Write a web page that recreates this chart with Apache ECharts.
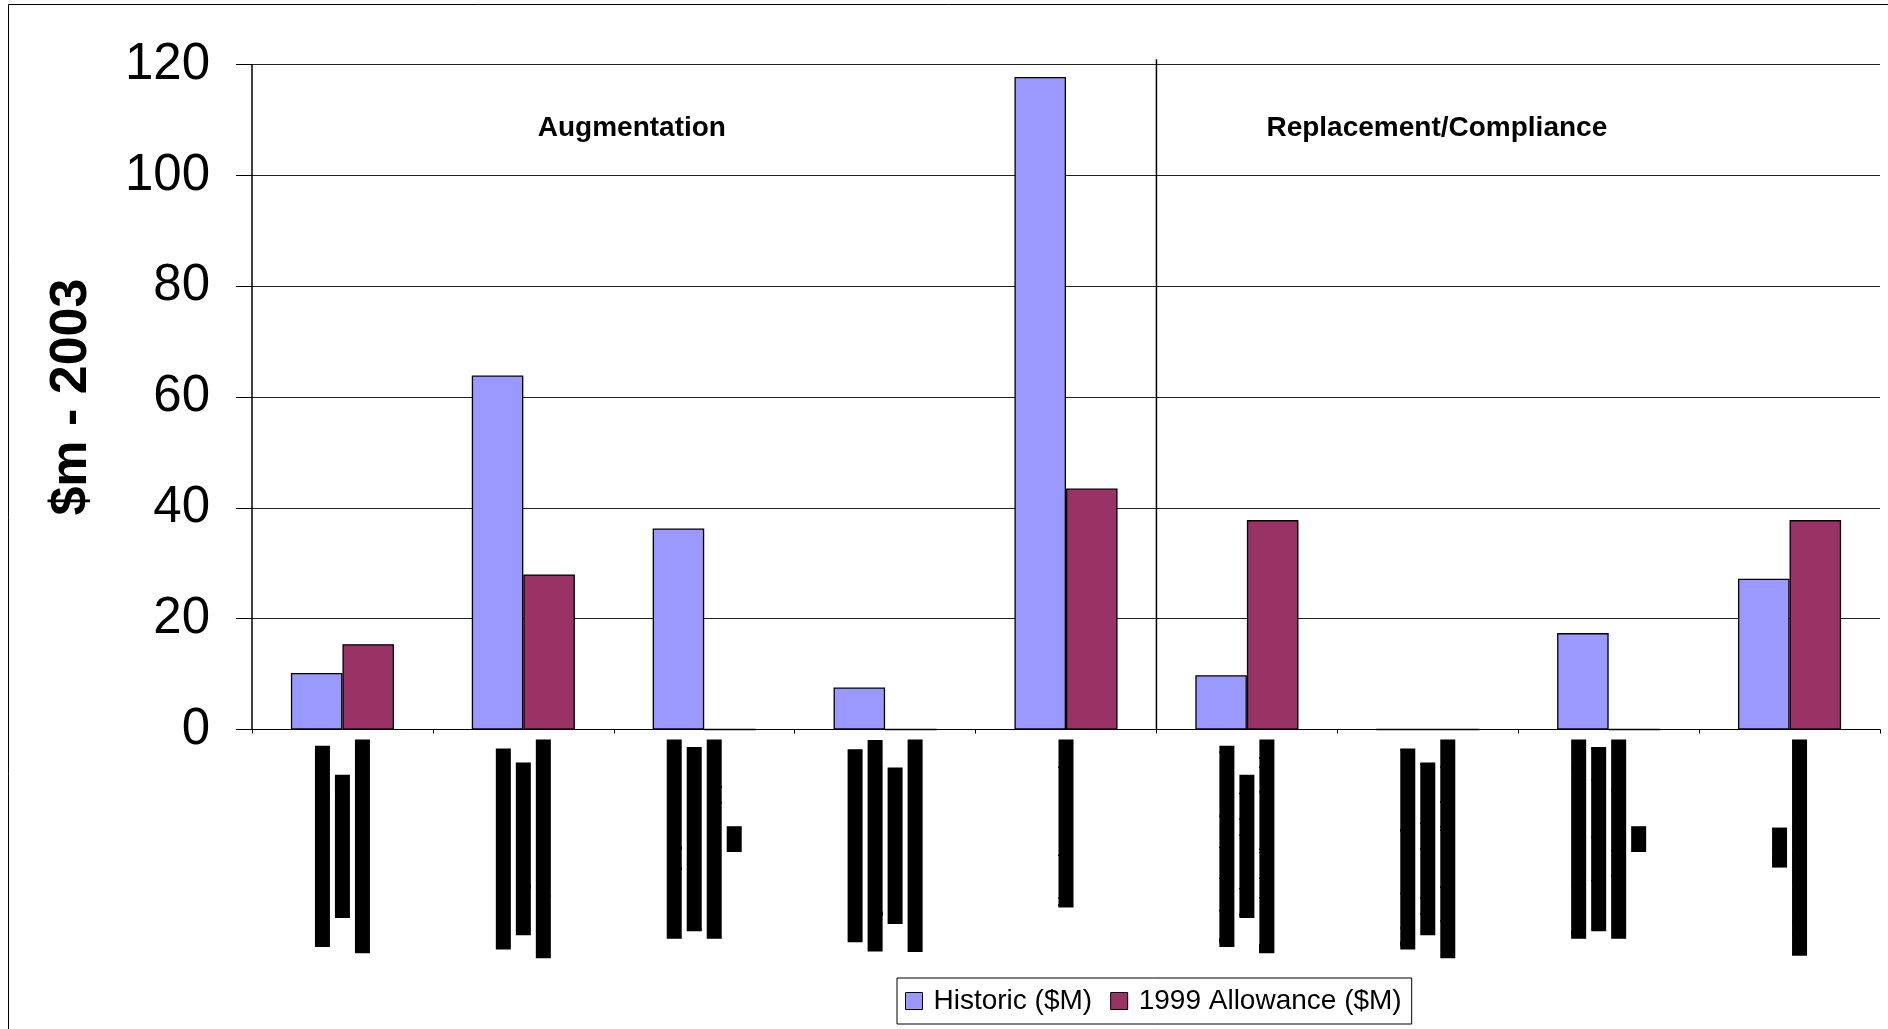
<!DOCTYPE html>
<html>
<head>
<meta charset="utf-8">
<title>Capital expenditure: historic vs 1999 allowance</title>
<script src="https://cdn.jsdelivr.net/npm/echarts@6/dist/echarts.min.js"></script>
<style>
  html, body { margin: 0; padding: 0; background: #fff; }
  #chart { width: 1888px; height: 1029px; }
</style>
</head>
<body>
<div id="chart"></div>
<script>
// Expenditure categories (multi-line names, one line per row of the rotated label)
const categories = [
  'Overhead and underground,\nfeeders and circuits,\nTransmission lines and cables',
  'Substation transformers and\nswitchgear, busbars and\nreactive plant at all substations',
  'Secondary systems such as\nprotection, telecontrol and\ncommunications equipment,\netc.',
  'Connection assets to serve\nnew generators and customer\nloads, with associated\ntransmission lines, extensions',
  'Network augmentations',
  'Overhead and underground,\nfeeders and circuits,\nTransmission lines and cables',
  'Substation transformers and\nswitchgear, busbars and\nreactive plant at all substations',
  'Secondary systems such as\nprotection, telecontrol and\ncommunications equipment,\netc.',
  'Other\nbuildings, land and easements'
];
const seriesNames = ['Historic ($M)', '1999 Allowance ($M)'];
const historic  = [10.2, 63.9, 36.3, 7.6, 117.8, 9.8, 0, 17.4, 27.2];
const allowance = [15.4, 28.0, 0, 0, 43.5, 37.8, 0, 0, 37.8];
const yTicks = [0, 20, 40, 60, 80, 100, 120];
const sections = ['Augmentation', 'Replacement/Compliance'];
const sectionSizes = [5, 4];

const FONT = "'Liberation Sans', Arial, Helvetica, sans-serif";

// The two sections are split after the first group of categories
const dividerAt = sectionSizes[0];
// Section titles, placed in category units near the top of the plot
const sectionTitleData = [
  [2.1, 108.6, sections[0]],
  [dividerAt + 1.55, 108.6, sections[1]]
];

const chart = echarts.init(document.getElementById('chart'), null, { renderer: 'canvas' });

chart.setOption({
  animation: false,
  backgroundColor: '#fff',
  textStyle: { fontFamily: FONT, color: '#000' },
  graphic: [{
    type: 'rect',
    silent: true,
    z: -10,
    shape: { x: 8.5, y: 4.5, width: 3000, height: 3000 },
    style: { fill: 'none', stroke: '#000', lineWidth: 1 }
  }],
  grid: {
    left: 252, right: 8, top: 64.7, bottom: 299.5,
    containLabel: false, outerBoundsMode: 'none'
  },
  legend: {
    data: seriesNames,
    left: 897, top: 978,
    orient: 'horizontal',
    icon: 'rect',
    itemWidth: 17, itemHeight: 17,
    itemGap: 18,
    padding: [9, 10, 9, 8],
    backgroundColor: '#fff',
    borderColor: '#000',
    borderWidth: 1,
    borderRadius: 0,
    itemStyle: { borderColor: '#000', borderWidth: 1 },
    textStyle: { fontSize: 28, color: '#000', fontFamily: FONT, padding: [0, 0, 0, 6] }
  },
  xAxis: [{
    type: 'category',
    data: categories,
    boundaryGap: true,
    axisLine: { show: true, lineStyle: { color: '#000', width: 1 } },
    axisTick: { show: true, length: 4, inside: false, alignWithLabel: false, lineStyle: { color: '#000' } },
    splitLine: { show: false },
    axisLabel: {
      interval: 0,
      rotate: 90,
      margin: 10,
      hideOverlap: false,
      formatter: v => v.split('\n').map(s => '{b|' + s + '}').join('\n'),
      rich: {
        b: {
          fontSize: 16,
          fontFamily: FONT,
          color: '#000',
          backgroundColor: '#000',
          height: 15,
          lineHeight: 20,
          align: 'center'
        }
      }
    }
  }, {
    type: 'value',
    min: 0,
    max: categories.length,
    show: false
  }],
  yAxis: {
    type: 'value',
    min: yTicks[0],
    max: yTicks[yTicks.length - 1],
    interval: yTicks[1] - yTicks[0],
    name: '$m - 2003',
    nameLocation: 'middle',
    nameRotate: 90,
    nameGap: 154,
    nameTextStyle: { fontSize: 52, fontWeight: 'bold', fontFamily: FONT, color: '#000' },
    axisLine: { show: true, lineStyle: { color: '#000', width: 1.5 } },
    axisTick: { show: true, length: 16, inside: false, lineStyle: { color: '#000' } },
    axisLabel: { fontSize: 51, fontFamily: FONT, color: '#000', margin: 42 },
    splitLine: { show: true, lineStyle: { color: '#222', width: 1 } }
  },
  series: [{
    name: seriesNames[0],
    type: 'bar',
    data: historic,
    barGap: '0%',
    barCategoryGap: '43%',
    itemStyle: { color: '#9999FF', borderColor: '#000', borderWidth: 1.3 },
    z: 3
  }, {
    name: seriesNames[1],
    type: 'bar',
    data: allowance,
    barGap: '0%',
    barCategoryGap: '43%',
    itemStyle: { color: '#993366', borderColor: '#000', borderWidth: 1.3 },
    z: 3
  }, {
    name: 'divider',
    type: 'line',
    xAxisIndex: 1,
    data: [[dividerAt, 0], [dividerAt, 121]],
    clip: false,
    symbol: 'none',
    silent: true,
    lineStyle: { color: '#000', width: 1.5 },
    z: 4
  }, {
    name: 'sections',
    type: 'scatter',
    xAxisIndex: 1,
    data: sectionTitleData,
    symbolSize: 1,
    silent: true,
    itemStyle: { color: 'transparent', opacity: 1 },
    label: {
      show: true,
      position: 'inside',
      formatter: p => p.value[2],
      fontSize: 28,
      fontWeight: 'bold',
      fontFamily: FONT,
      color: '#000',
      opacity: 1
    },
    z: 5
  }]
});
</script>
</body>
</html>
